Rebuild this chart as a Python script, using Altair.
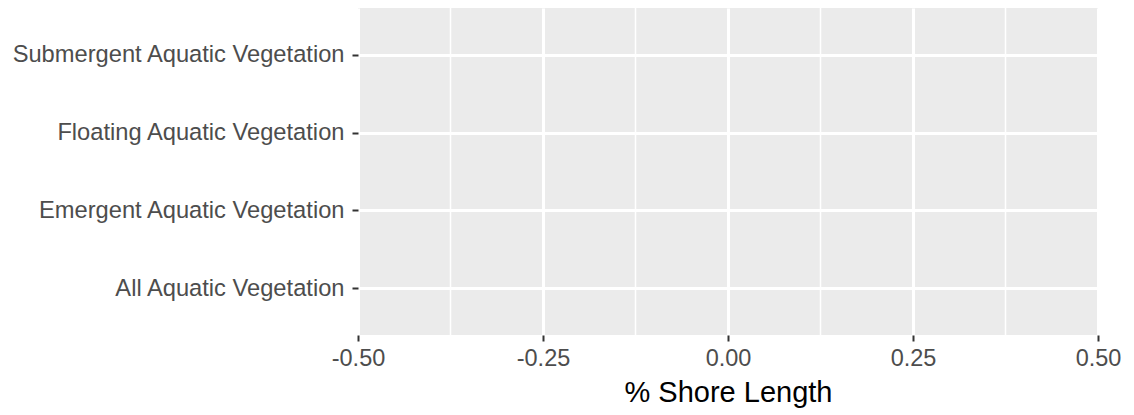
import altair as alt
import pandas as pd

categories = [
    "Submergent Aquatic Vegetation",
    "Floating Aquatic Vegetation",
    "Emergent Aquatic Vegetation",
    "All Aquatic Vegetation",
]
values = [0.0, 0.0, 0.0, 0.0]
major_breaks = [-0.5, -0.25, 0.0, 0.25, 0.5]
minor_breaks = [-0.375, -0.125, 0.125, 0.375]

df = pd.DataFrame({"category": categories, "value": values})
minor_df = pd.DataFrame({"value": minor_breaks})

FONT = "Liberation Sans"

xscale = alt.Scale(domain=[-0.5, 0.5], nice=False, zero=False)

xaxis = alt.Axis(
    values=major_breaks,
    labelExpr="replace(format(datum.value, '.2f'), '\u2212', '-')",
    grid=True,
    gridColor="white",
    gridWidth=3,
    domain=False,
    ticks=True,
    tickSize=6,
    tickWidth=2,
    tickColor="#333333",
    labelFont=FONT,
    labelFontSize=23.5,
    labelColor="#4D4D4D",
    labelPadding=5,
    labelFlush=False,
    titleFont=FONT,
    titleFontSize=29,
    titleFontWeight="normal",
    titleColor="#000000",
    titlePadding=9,
)

minor = alt.Chart(minor_df).mark_rule(color="white", strokeWidth=1.5).encode(
    x=alt.X("value:Q", scale=xscale, title="% Shore Length", axis=xaxis)
)

bars = alt.Chart(df).mark_bar(color="#595959").encode(
    x=alt.X("value:Q", scale=xscale, title="% Shore Length", axis=xaxis),
    y=alt.Y(
        "category:N",
        sort=categories,
        scale=alt.Scale(type="point", padding=0.6),
        title=None,
        axis=alt.Axis(
            grid=True,
            gridColor="white",
            gridWidth=3,
            domain=False,
            ticks=True,
            tickSize=6,
            tickWidth=2,
            tickColor="#333333",
            labelFont=FONT,
            labelFontSize=23.7,
            labelColor="#4D4D4D",
            labelPadding=8,
            labelLimit=0,
        ),
    ),
)

chart = (
    alt.layer(minor, bars)
    .properties(
        width=740,
        height=327,
        autosize=alt.AutoSizeParams(type="none"),
        padding={"left": 350, "top": 0, "right": 28, "bottom": 76},
        background="white",
    )
    .configure_view(fill="#EBEBEB", stroke=None)
)

chart.save("out.html", embed_options={"renderer": "svg", "actions": False})
